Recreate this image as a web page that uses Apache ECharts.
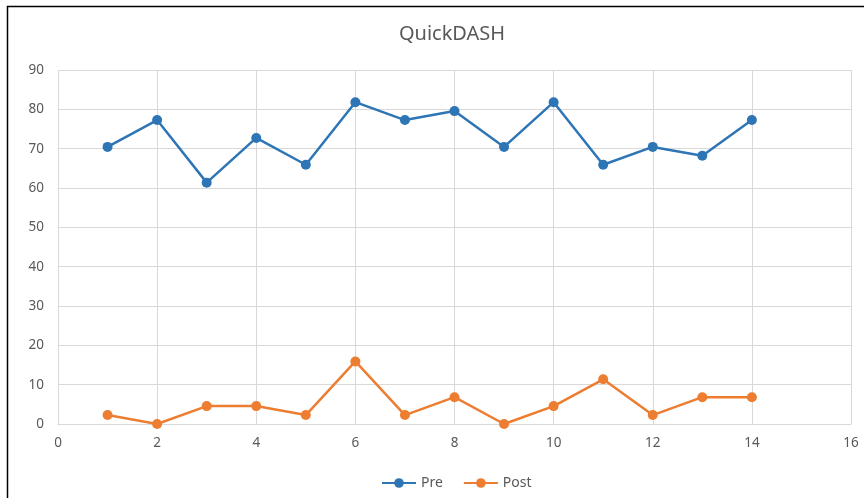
<!DOCTYPE html>
<html>
<head>
<meta charset="utf-8">
<script src="https://cdn.jsdelivr.net/npm/echarts@6/dist/echarts.min.js"></script>
<style>
  html, body { margin: 0; padding: 0; background: #fff; }
  #chart { width: 864px; height: 498px; }
</style>
</head>
<body>
<div id="chart"></div>
<script>
// QuickDASH scores per patient
var patients = [1, 2, 3, 4, 5, 6, 7, 8, 9, 10, 11, 12, 13, 14];
var preScores = [70.45, 77.27, 61.36, 72.73, 65.91, 81.82, 77.27, 79.55, 70.45, 81.82, 65.91, 70.45, 68.18, 77.27];
var postScores = [2.27, 0, 4.55, 4.55, 2.27, 15.91, 2.27, 6.82, 0, 4.55, 11.36, 2.27, 6.82, 6.82];

function pairs(xs, ys) {
    var out = [];
    for (var i = 0; i < xs.length; i++) {
        out.push([xs[i], ys[i]]);
    }
    return out;
}

var chart = echarts.init(document.getElementById('chart'));
var textColor = '#595959';
var gridColor = '#d9d9d9';

var options = {
    animation: false,
    textStyle: { fontFamily: 'Noto Sans' },
    title: {
        text: 'QuickDASH',
        left: 447,
        textAlign: 'center',
        top: 19,
        textStyle: { fontSize: 20, fontWeight: 'normal', color: textColor, fontFamily: 'Noto Sans' }
    },
    // chart border (left/top edges are visible in the reference)
    graphic: [{
        type: 'rect',
        shape: { x: 7.5, y: 6.5, width: 900, height: 600 },
        style: { fill: 'none', stroke: '#000', lineWidth: 1.5 },
        silent: true
    }],
    legend: {
        top: 471,
        left: 376,
        itemWidth: 34,
        itemHeight: 12,
        itemGap: 20,
        textStyle: { fontSize: 14, color: textColor },
        data: ['Pre', 'Post']
    },
    grid: { left: 58, right: 13, top: 70, bottom: 74 },
    xAxis: {
        type: 'value',
        min: 0,
        max: 16,
        interval: 2,
        axisLine: { show: true, lineStyle: { color: gridColor } },
        axisTick: { show: false },
        axisLabel: { color: textColor, fontSize: 13.5, margin: 12 },
        splitLine: { show: true, lineStyle: { color: gridColor, width: 1 } }
    },
    yAxis: {
        type: 'value',
        min: 0,
        max: 90,
        interval: 10,
        axisLine: { show: false },
        axisTick: { show: false },
        axisLabel: { color: textColor, fontSize: 13.5, margin: 14 },
        splitLine: { show: true, lineStyle: { color: gridColor, width: 1 } }
    },
    series: [{
        name: 'Pre',
        type: 'line',
        data: pairs(patients, preScores),
        symbol: 'circle',
        symbolSize: 10,
        lineStyle: { width: 2.5, color: '#2E75B6' },
        itemStyle: { color: '#2E75B6' }
    },
    {
        name: 'Post',
        type: 'line',
        data: pairs(patients, postScores),
        symbol: 'circle',
        symbolSize: 10,
        lineStyle: { width: 2.5, color: '#ED7D31' },
        itemStyle: { color: '#ED7D31' }
    }]
};
chart.setOption(options);
</script>
</body>
</html>
